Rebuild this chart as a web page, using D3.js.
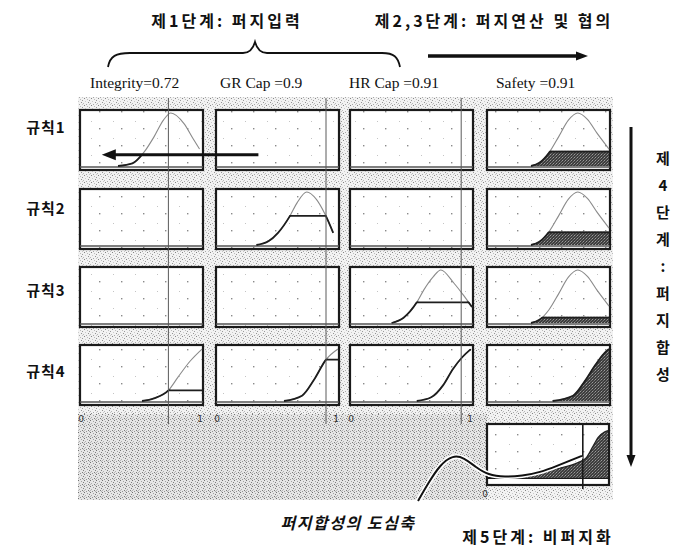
<!DOCTYPE html>
<html><head><meta charset="utf-8">
<script src="https://cdn.jsdelivr.net/npm/d3@7"></script>
<style>body{margin:0;background:#fff}svg{display:block}</style>
</head><body><svg id="c" width="673" height="549"></svg>
<script>
// ---------------- data ----------------
const stageTitles = ["제1단계: 퍼지입력", "제2,3단계: 퍼지연산 및 협의", "제5단계: 비퍼지화"];
const stage4Chars = ["제","4","단","계",":","퍼","지","합","성"];
const centroidNote = "퍼지합성의 도심축";
const inputNames = ["Integrity=0.72", "GR Cap =0.9", "HR Cap =0.91", "Safety =0.91"];
const inputValues = [0.72, 0.9, 0.91];
const ruleLabels = ["규칙1", "규칙2", "규칙3", "규칙4"];
const tickLabels = ["0", "1"];

// membership curves [x (0-1), membership (0-1)]
const integrityBell = [[0.30,0],[0.42,0.05],[0.52,0.27],[0.60,0.55],[0.68,0.87],[0.74,1.0],[0.85,0.80],[0.93,0.50],[0.98,0.32]];
const grBell        = [[0.32,0],[0.42,0.07],[0.50,0.23],[0.60,0.55],[0.66,0.80],[0.74,1.0],[0.82,0.86],[0.89,0.59],[0.96,0.23]];
const hrBell        = [[0.33,0],[0.43,0.10],[0.54,0.39],[0.60,0.63],[0.68,0.88],[0.74,1.0],[0.85,0.75],[0.93,0.52],[1.00,0.30]];
const safetyBell    = [[0.35,0],[0.42,0.06],[0.50,0.25],[0.58,0.55],[0.66,0.86],[0.74,1.0],[0.82,0.88],[0.90,0.62],[1.00,0.32]];
const integrityS    = [[0.50,0],[0.60,0.05],[0.72,0.20],[0.80,0.45],[0.90,0.75],[1.00,0.98]];
const grS           = [[0.55,0],[0.70,0.10],[0.80,0.40],[0.90,0.78],[1.00,0.98]];
const hrS           = [[0.54,0],[0.66,0.07],[0.76,0.30],[0.84,0.60],[0.92,0.83],[0.99,0.98]];
const safetyS       = [[0.53,0],[0.70,0.10],[0.80,0.38],[0.88,0.66],[0.96,0.90],[1.00,0.98]];

// rule firing levels (cut) and output fill levels
const rule1 = [{curve: integrityBell, cut: 0.21}, null, null, {curve: safetyBell, fill: 0.27}];
const rule2 = [null, {curve: grBell, cut: 0.55}, null, {curve: safetyBell, fill: 0.24}];
const rule3 = [null, null, {curve: hrBell, cut: 0.39}, {curve: safetyBell, fill: 0.10}];
const rule4 = [{curve: integrityS, cut: 0.20}, {curve: grS, cut: 0.78}, {curve: hrS, cut: 0.97}, {curve: safetyS, fill: 1.0}];
const rules = [rule1, rule2, rule3, rule4];

// aggregated output and centroid
const aggregate = [[0.27,0],[0.38,0.06],[0.55,0.17],[0.75,0.30],[0.82,0.40],[0.87,0.60],[0.92,0.80],[0.97,0.90],[1.00,0.93]];
const centroid = 0.79;
// pointer from the note to the centroid axis (output-panel units)
const pointer = [[-0.583,-0.45],[-0.5,-0.11],[-0.4,0.26],[-0.292,0.45],[-0.2,0.40],[-0.1,0.21],[0,0.06],[0.142,0.02],[0.283,0.04],[0.433,0.11],[0.583,0.245],[0.683,0.34],[0.783,0.434]];
// rule-1 arrow (column-1 units): tail -> tip
const ruleArrow = [1.47, 0.165];

// ---------------- layout ----------------
const colLeft = [80, 216, 350, 487], colW = 123;
const rowTop = [110, 189, 267, 345], rowH = 60;
const outBox = {x: 487, y: 424, w: 122, h: 61};
const nameX = [90, 220, 349, 496];
const ruleY = [133, 214, 296, 377];

const svg = d3.select("#c");
const defs = svg.append("defs");
function pattern(id, size, bg, specks) {
  const p = defs.append("pattern").attr("id", id).attr("width", size).attr("height", size).attr("patternUnits", "userSpaceOnUse");
  p.append("rect").attr("width", size).attr("height", size).attr("fill", bg);
  specks.forEach(s => p.append("rect").attr("x", s[0]).attr("y", s[1]).attr("width", 1).attr("height", 1).attr("fill", s[2]));
}
pattern("tex", 7, "#f2f2f2", [[0,0,"#858585"],[3,1,"#bcbcbc"],[5,2,"#9a9a9a"],[1,3,"#cacaca"],[4,4,"#939393"],[6,5,"#b8b8b8"],[2,6,"#a8a8a8"],[5,6,"#c8c8c8"]]);
pattern("tex2", 6, "#e6e6e6", [[0,0,"#727272"],[3,1,"#a2a2a2"],[5,2,"#7e7e7e"],[1,3,"#aeaeae"],[4,4,"#7c7c7c"],[2,5,"#929292"],[0,4,"#b8b8b8"],[5,5,"#b0b0b0"]]);
const dp = defs.append("pattern").attr("id","dots").attr("width",22).attr("height",17).attr("patternUnits","userSpaceOnUse");
dp.append("rect").attr("width",22).attr("height",17).attr("fill","#fff");
dp.append("rect").attr("x",11).attr("y",9).attr("width",1.4).attr("height",1.4).attr("fill","#8a8a8a");
dp.append("rect").attr("x",3).attr("y",2).attr("width",1).attr("height",1).attr("fill","#c4c4c4");
pattern("hatch", 3, "#3e3e3e", [[1,1,"#9a9a9a"],[2,0,"#6a6a6a"],[0,2,"#777"]]);

// textured backdrop
svg.append("rect").attr("x",78).attr("y",97).attr("width",535).attr("height",403).attr("fill","url(#tex)");
svg.append("rect").attr("x",78).attr("y",414).attr("width",409).attr("height",86).attr("fill","url(#tex2)");

// titles
const kr = "'Noto Sans CJK KR','Noto Sans CJK SC',sans-serif";
function title(t, x, y, extra) {
  const s = svg.append("text").attr("x",x).attr("y",y).attr("text-anchor","middle").attr("font-family",kr).attr("font-weight",700).attr("font-size",16).attr("letter-spacing",3).attr("fill","#111").text(t);
  if (extra) extra(s);
  return s;
}
title(stageTitles[0], 227, 27);
title(stageTitles[1], 494, 27);
title(stageTitles[2], 538, 543);
title(centroidNote, 348, 529, s => s.attr("font-style","italic").attr("letter-spacing",1.5));

// brace over the input columns
svg.append("path").attr("d","M108,67 C110,56 116,53 130,53 L243,53 C250,53 253,49 255,42 C257,49 260,53 267,53 L382,53 C394,53 398,57 400,67")
  .attr("fill","none").attr("stroke","#111").attr("stroke-width",1.8);
// arrows
function arrowHead(x, y, dir, len, half) {
  const dx = dir[0], dy = dir[1];
  const px = -dy, py = dx;
  return `M${x},${y} L${x - dx*len + px*half},${y - dy*len + py*half} L${x - dx*len - px*half},${y - dy*len - py*half} Z`;
}
svg.append("line").attr("x1",428).attr("y1",56).attr("x2",578).attr("y2",56).attr("stroke","#111").attr("stroke-width",3.5);
svg.append("path").attr("d",arrowHead(588,56,[1,0],12,4.5)).attr("fill","#111");
svg.append("line").attr("x1",631).attr("y1",127).attr("x2",631).attr("y2",456).attr("stroke","#111").attr("stroke-width",3);
svg.append("path").attr("d",arrowHead(631,467,[0,1],12,4.5)).attr("fill","#111");
stage4Chars.forEach((ch, i) => {
  svg.append("text").attr("x",663).attr("y",164 + i*27).attr("text-anchor","middle").attr("font-family",kr).attr("font-weight",700).attr("font-size",15).attr("fill","#111").text(ch);
});

// column headers and rule labels
inputNames.forEach((n, i) => svg.append("text").attr("x",nameX[i]).attr("y",88).attr("font-family","'Liberation Serif',serif").attr("font-size",15.5).attr("fill","#111").text(n));
ruleLabels.forEach((n, i) => svg.append("text").attr("x",46).attr("y",ruleY[i]).attr("text-anchor","middle").attr("font-family",kr).attr("font-weight",700).attr("font-size",15).attr("letter-spacing",1).attr("fill","#111").text(n));

// scales
const xs = colLeft.map(l => d3.scaleLinear().domain([0,1]).range([l+2, l+colW-1]));
const ys = rowTop.map(t => d3.scaleLinear().domain([0,1]).range([t+rowH-4, t+3]));
const xo = d3.scaleLinear().domain([0,1]).range([outBox.x+1, outBox.x+outBox.w-1]);
const yo = d3.scaleLinear().domain([0,1]).range([outBox.y+outBox.h-7, outBox.y+3]);

function panel(x, y, w, h) {
  svg.append("rect").attr("x",x).attr("y",y).attr("width",w).attr("height",h).attr("fill","url(#dots)").attr("stroke","#1a1a1a").attr("stroke-width",2.2);
  svg.append("line").attr("x1",x).attr("x2",x+w).attr("y1",y+h-3).attr("y2",y+h-3).attr("stroke","#555").attr("stroke-width",1.4);
}

let uid = 0;
rules.forEach((row, r) => {
  row.forEach((cell, c) => {
    panel(colLeft[c], rowTop[r], colW, rowH);
    if (!cell) return;
    const x = xs[c], y = ys[r];
    const line = d3.line().x(d => x(d[0])).y(d => y(d[1])).curve(d3.curveMonotoneX);
    const area = d3.area().x(d => x(d[0])).y0(y(0)).y1(d => y(d[1])).curve(d3.curveMonotoneX);
    const level = cell.cut !== undefined ? cell.cut : cell.fill;
    const idB = "below" + (uid), idU = "under" + (uid++);
    defs.append("clipPath").attr("id", idB).append("rect").attr("x", colLeft[c]).attr("width", colW).attr("y", y(level) - 0.9).attr("height", y(0) - y(level) + 4);
    defs.append("clipPath").attr("id", idU).append("path").attr("d", area(cell.curve));
    if (cell.fill !== undefined) {
      svg.append("path").attr("d", area(cell.curve)).attr("fill","url(#hatch)").attr("clip-path",`url(#${idB})`);
    }
    svg.append("path").attr("d", line(cell.curve)).attr("fill","none").attr("stroke","#8a8a8a").attr("stroke-width",1.1);
    svg.append("path").attr("d", line(cell.curve)).attr("fill","none").attr("stroke","#1e1e1e").attr("stroke-width",1.8).attr("clip-path",`url(#${idB})`);
    if (level < 1) {
      svg.append("line").attr("x1", x(0)).attr("x2", x(1)).attr("y1", y(level)).attr("y2", y(level)).attr("stroke","#1e1e1e").attr("stroke-width",1.8).attr("clip-path",`url(#${idU})`);
    }
  });
});

// input value lines
inputValues.forEach((v, c) => {
  svg.append("line").attr("x1", xs[c](v)).attr("x2", xs[c](v)).attr("y1", 98).attr("y2", 424).attr("stroke","#5a5a5a").attr("stroke-width",1);
});

// tick labels
[0,1,2].forEach(c => {
  svg.append("text").attr("x", xs[c](0) - 1).attr("y", 422).attr("text-anchor","middle").attr("font-family","'DejaVu Sans',sans-serif").attr("font-size",9).attr("fill","#333").text(tickLabels[0]);
  svg.append("text").attr("x", xs[c](1) - 2).attr("y", 422).attr("text-anchor","middle").attr("font-family","'DejaVu Sans',sans-serif").attr("font-size",9).attr("fill","#333").text(tickLabels[1]);
});

// rule-1 arrow
svg.append("line").attr("x1", xs[0](ruleArrow[0])).attr("x2", xs[0](ruleArrow[1]) + 10).attr("y1", ys[0](rule1[0].cut)).attr("y2", ys[0](rule1[0].cut)).attr("stroke","#111").attr("stroke-width",3);
svg.append("path").attr("d", arrowHead(xs[0](ruleArrow[1]), ys[0](rule1[0].cut), [-1,0], 14, 5.5)).attr("fill","#111");

// output panel
svg.append("rect").attr("x",outBox.x).attr("y",outBox.y).attr("width",outBox.w).attr("height",outBox.h).attr("fill","url(#dots)").attr("stroke","#1a1a1a").attr("stroke-width",2.2);
svg.append("line").attr("x1",outBox.x).attr("x2",outBox.x+outBox.w).attr("y1",outBox.y+outBox.h-7).attr("y2",outBox.y+outBox.h-7).attr("stroke","#1a1a1a").attr("stroke-width",1.8);
const aArea = d3.area().x(d => xo(d[0])).y0(yo(0)).y1(d => yo(d[1])).curve(d3.curveMonotoneX);
const aLine = d3.line().x(d => xo(d[0])).y(d => yo(d[1])).curve(d3.curveMonotoneX);
svg.append("path").attr("d", aArea(aggregate)).attr("fill","url(#hatch)");
svg.append("path").attr("d", aLine(aggregate)).attr("fill","none").attr("stroke","#222").attr("stroke-width",1.3);
svg.append("line").attr("x1", xo(centroid)).attr("x2", xo(centroid)).attr("y1", outBox.y - 1).attr("y2", outBox.y + outBox.h + 4).attr("stroke","#1a1a1a").attr("stroke-width",1.6);
svg.append("text").attr("x", xo(0) - 3).attr("y", 497).attr("text-anchor","middle").attr("font-family","'DejaVu Sans',sans-serif").attr("font-size",9).attr("fill","#333").text(tickLabels[0]);
const pLine = d3.line().x(d => xo(d[0])).y(d => yo(d[1])).curve(d3.curveBasis);
svg.append("path").attr("d", pLine(pointer)).attr("fill","none").attr("stroke","#fff").attr("stroke-width",5);
svg.append("path").attr("d", pLine(pointer)).attr("fill","none").attr("stroke","#111").attr("stroke-width",2);
</script></body></html>
